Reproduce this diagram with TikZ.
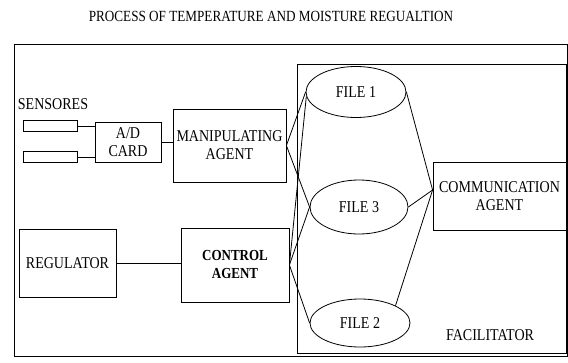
\documentclass[tikz,border=0pt]{standalone}
\usepackage{fontspec}
\setmainfont[FakeStretch=0.85]{Liberation Serif}
\usetikzlibrary{shapes.geometric,calc}
\begin{document}
\begin{tikzpicture}[x=1pt,y=-1pt, line width=0.8pt,
  txt/.style={font=\fontsize{16.5}{18}\selectfont},
  box/.style={draw, rectangle, inner sep=0pt, align=center, txt},
  file/.style={draw, ellipse, inner sep=0pt, txt},
  lbl/.style={inner sep=0pt, txt},
  frame/.style={draw, rectangle, inner sep=0pt},
  link/.style={draw}]
\useasboundingbox (0,0) rectangle (568,362);
% frames
\node[frame, minimum width=553pt, minimum height=312pt] (outer) at (290.5,200) {};
\node[frame, minimum width=269pt, minimum height=289pt] (facil) at (431.5,208.5) {};
% title and labels
\node[lbl, font=\fontsize{15.5}{17}\selectfont] (title) at (271,16) {PROCESS OF TEMPERATURE AND MOISTURE REGUALTION};
\node[lbl] (senslbl) at (53,104) {SENSORES};
\node[lbl] (faclbl) at (490,335) {FACILITATOR};
% sensors
\node[box, minimum width=54pt, minimum height=11pt] (s1) at (50,125.5) {};
\node[box, minimum width=54pt, minimum height=11pt] (s2) at (50,156.5) {};
% boxes
\node[box, minimum width=66pt, minimum height=40pt] (ad) at (128,142) {A/D\\CARD};
\node[box, minimum width=113pt, minimum height=73pt] (manip) at (229.5,145.5) {MANIPULATING\\AGENT};
\node[box, minimum width=97pt, minimum height=68pt] (reg) at (67.5,263) {REGULATOR};
\node[box, minimum width=108pt, minimum height=74pt, font=\bfseries\fontsize{15.3}{18}\selectfont] (ctrl) at (235,265) {CONTROL\\AGENT};
\node[box, minimum width=133pt, minimum height=68pt] (comm) at (499.5,196) {COMMUNICATION\\AGENT};
% files
\node[file, minimum width=100pt, minimum height=51pt] (file1) at (356,92) {FILE 1};
\node[file, minimum width=98pt, minimum height=54pt] (file3) at (359,207) {FILE 3};
\node[file, minimum width=100pt, minimum height=48pt] (file2) at (360,323) {FILE 2};
% hub on communication agent
\coordinate (hub) at ($(comm.west)+(0,-6)$);
% connectors
\draw[link] (s1.east |- 0,126) -- (ad.west |- 0,126);
\draw[link] (s2.east |- 0,157) -- (ad.west |- 0,157);
\draw[link] (ad.east) -- (manip.west |- ad.east);
\draw[link] (reg.east) -- (ctrl.west |- reg.east);
\draw[link] (manip.east) -- (file1.west);
\draw[link] (manip.east) -- (file3.west);
\draw[link] (ctrl.east) -- (file1.185);
\draw[link] (ctrl.east) -- (file3.west);
\draw[link] (ctrl.east) -- (file2.west);
\draw[link] (hub) -- (file1.east);
\draw[link] (hub) -- (file3.east);
\draw[link] (hub) -- (file2.26);
\end{tikzpicture}
\end{document}
